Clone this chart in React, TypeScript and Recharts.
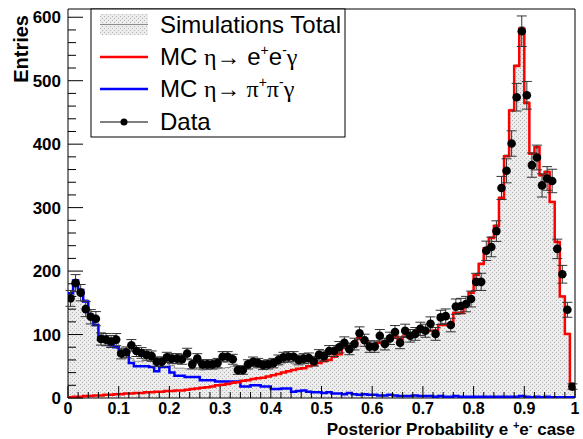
import React from "react";
import { ComposedChart, Area, Line, Scatter, ErrorBar, XAxis, YAxis, ReferenceArea, Label } from "recharts";

// 100 bins of width 0.01 on [0, 1]
const DATA = [
  157, 181, 166, 140, 128, 125, 93, 92, 89, 92,
  70, 72, 83, 74, 71, 68, 66, 57, 57, 64,
  62, 62, 61, 70, 53, 62, 53, 53, 53, 55,
  65, 65, 61, 44, 44, 53, 57, 55, 52, 53,
  55, 60, 64, 65, 65, 60, 62, 63, 58, 68,
  66, 74, 74, 80, 87, 77, 85, 102, 91, 81,
  81, 98, 85, 94, 104, 87, 106, 98, 101, 109,
  106, 117, 101, 127, 129, 115, 144, 145, 148, 156,
  183, 183, 232, 238, 263, 331, 358, 401, 474, 578,
  477, 367, 379, 335, 346, 342, 235, 195, 139, 18,
];

const MC_EE = [
  1, 2, 2, 3, 3, 4, 4, 5, 5, 6,
  6, 7, 7, 8, 8, 9, 9, 10, 10, 11,
  11, 12, 12, 13, 14, 15, 16, 17, 18, 20,
  21, 22, 24, 25, 27, 28, 30, 31, 32, 34,
  36, 38, 40, 42, 44, 46, 47, 50, 52, 55,
  58, 60, 65, 69, 79, 79, 82, 94, 90, 83,
  83, 87, 89, 93, 97, 93, 97, 99, 102, 106,
  106, 106, 106, 115, 115, 115, 134, 134, 149, 166,
  194, 211, 236, 252, 271, 315, 381, 453, 523, 582,
  465, 385, 395, 351, 356, 309, 246, 160, 101, 14,
];

const MC_PIPI = [
  165, 185, 170, 152, 128, 115, 97, 91, 83, 80,
  68, 68, 55, 50, 50, 50, 49, 42, 49, 49,
  40, 35, 35, 33, 33, 33, 28, 28, 28, 26,
  26, 26, 26, 26, 18, 18, 20, 20, 18, 18,
  14, 14, 15, 15, 10, 11, 12, 10, 9, 9,
  8, 9, 7, 7, 6, 8, 6, 5, 6, 5,
  5, 4, 4, 5, 4, 3, 3, 3, 4, 3,
  3, 3, 2, 3, 2, 2, 3, 2, 2, 2,
  2, 2, 2, 2, 2, 2, 2, 2, 2, 3,
  2, 1, 2, 1, 2, 1, 1, 1, 1, 1,
];

const X_TICKS = Array.from({ length: 51 }, (_, i) => i / 50);
const X_LABELS = ["0", "0.1", "0.2", "0.3", "0.4", "0.5", "0.6", "0.7", "0.8", "0.9", "1"];
const Y_TICKS = Array.from({ length: 31 }, (_, i) => i * 20);
const Y_MAX = 613;

const FONT = "'Liberation Sans', Arial, Helvetica, sans-serif";
const GREEK = "'Liberation Serif', 'Times New Roman', serif";

// step outline: one point per low bin edge, plus the closing edge at 1
const edges = MC_EE.map((ee, i) => ({ x: i / 100, ee, pp: MC_PIPI[i], total: ee + MC_PIPI[i] }));
edges.push({ x: 1, ee: MC_EE[99], pp: MC_PIPI[99], total: MC_EE[99] + MC_PIPI[99] });

const points = DATA.map((y, i) => ({ x: (i + 0.5) / 100, y, err: Math.sqrt(y) }));

const XTick = (p: any) => {
  const v = p.payload.value;
  const idx = Math.round(v * 10);
  const major = Math.abs(v * 10 - idx) < 1e-6;
  return (
    <g>
      <line x1={p.x} x2={p.x} y1={p.y} y2={p.y - (major ? 12 : 6)} stroke="#000" strokeWidth={1} />
      {major && (
        <text x={p.x} y={p.y + 16} textAnchor="middle" fontSize={16} fontWeight="bold" fontFamily={FONT} fill="#000">
          {X_LABELS[idx]}
        </text>
      )}
    </g>
  );
};

const YTick = (p: any) => {
  const v = p.payload.value;
  const major = v % 100 === 0;
  return (
    <g>
      <line x1={p.x} x2={p.x + (major ? 15 : 8)} y1={p.y} y2={p.y} stroke="#000" strokeWidth={1} />
      {major && (
        <text x={p.x - 7} y={p.y + 6} textAnchor="end" fontSize={17} fontWeight="bold" fontFamily={FONT} fill="#000">
          {v}
        </text>
      )}
    </g>
  );
};

const DataDot = (p: any) => <circle cx={p.cx} cy={p.cy} r={4.3} fill="#000" />;

function Legend() {
  return (
    <svg width={583} height={439} style={{ position: "absolute", left: 0, top: 0, pointerEvents: "none" }}>
      <defs>
        <pattern id="stipL" width={4} height={4} patternUnits="userSpaceOnUse">
          <rect width={4} height={4} fill="#ececec" />
          <rect x={0} y={0} width={1} height={1} fill="#b4b4b4" />
          <rect x={2} y={2} width={1} height={1} fill="#b4b4b4" />
        </pattern>
      </defs>
      <rect x={91} y={9} width={254} height={128} fill="#fff" stroke="#000" strokeWidth={1} />
      <rect x={100} y={14} width={48} height={21} fill="url(#stipL)" />
      <line x1={100} x2={148} y1={24.5} y2={24.5} stroke="#8c8c8c" strokeWidth={1} />
      <text x={160} y={33} fontSize={24} fontFamily={FONT} fill="#000">Simulations Total</text>

      <line x1={100} x2={148} y1={57} y2={57} stroke="#ff0000" strokeWidth={2.5} />
      <text x={160} y={65} fontSize={24} fontFamily={FONT} fill="#000">
        MC <tspan fontFamily={GREEK}>η→</tspan> e<tspan fontSize={14} dy={-10}>+</tspan>
        <tspan dy={10}>e</tspan><tspan fontSize={14} dy={-10}>-</tspan>
        <tspan dy={10} fontFamily={GREEK}>γ</tspan>
      </text>

      <line x1={100} x2={148} y1={89} y2={89} stroke="#0000ff" strokeWidth={2.5} />
      <text x={160} y={97} fontSize={24} fontFamily={FONT} fill="#000">
        MC <tspan fontFamily={GREEK}>η→ π</tspan><tspan fontSize={14} dy={-10}>+</tspan>
        <tspan dy={10} fontFamily={GREEK}>π</tspan><tspan fontSize={14} dy={-10}>-</tspan>
        <tspan dy={10} fontFamily={GREEK}>γ</tspan>
      </text>

      <line x1={100} x2={148} y1={122} y2={122} stroke="#000" strokeWidth={1} />
      <circle cx={124} cy={122} r={3.5} fill="#000" />
      <text x={160} y={130} fontSize={24} fontFamily={FONT} fill="#000">Data</text>
    </svg>
  );
}

export default function App() {
  return (
    <div style={{ position: "absolute", left: 0, top: 0, width: 583, height: 439, background: "#fff", fontFamily: FONT }}>
      <ComposedChart width={583} height={439} margin={{ top: 9, right: 8, left: 8, bottom: 0 }}>
        <defs>
          <pattern id="stip" width={4} height={4} patternUnits="userSpaceOnUse">
            <rect width={4} height={4} fill="#ececec" />
            <rect x={0} y={0} width={1} height={1} fill="#b4b4b4" />
            <rect x={2} y={2} width={1} height={1} fill="#b4b4b4" />
          </pattern>
        </defs>
        <Area data={edges} dataKey="total" type="stepAfter" stroke="#8c8c8c" strokeWidth={1}
          fill="url(#stip)" fillOpacity={1} dot={false} activeDot={false} isAnimationActive={false} />
        <Line data={edges} dataKey="pp" type="stepAfter" stroke="#0000ff" strokeWidth={2.5}
          dot={false} activeDot={false} isAnimationActive={false} />
        <Line data={edges} dataKey="ee" type="stepAfter" stroke="#ff0000" strokeWidth={2.5}
          dot={false} activeDot={false} isAnimationActive={false} />
        <Scatter data={points} dataKey="y" shape={DataDot} isAnimationActive={false}>
          <ErrorBar dataKey="err" direction="y" width={5} stroke="#333" strokeWidth={1} />
        </Scatter>
        <XAxis type="number" dataKey="x" domain={[0, 1]} ticks={X_TICKS} interval={0} tick={XTick}
          tickLine={false} axisLine={false} tickSize={0} tickMargin={0} height={41} allowDataOverflow>
          <Label content={(p: any) => {
            const vb = p.viewBox;
            return (
              <text x={vb.x + vb.width} y={vb.y + 37} textAnchor="end" fontSize={17} fontWeight="bold" fontFamily={FONT} fill="#000">
                Posterior Probability e <tspan fontSize={11} dy={-6}>+</tspan><tspan dy={6}>e</tspan>
                <tspan fontSize={11} dy={-6}>-</tspan><tspan dy={6}> case</tspan>
              </text>
            );
          }} />
        </XAxis>
        <YAxis type="number" dataKey="y" domain={[0, Y_MAX]} ticks={Y_TICKS} interval={0} tick={YTick}
          tickLine={false} axisLine={false} tickSize={0} tickMargin={0} width={60} allowDataOverflow>
          <Label content={(p: any) => {
            const vb = p.viewBox;
            return (
              <text transform={`translate(${vb.x + 20},${vb.y + 6}) rotate(-90)`} textAnchor="end"
                fontSize={20} fontWeight="bold" fontFamily={FONT} fill="#000">
                Entries
              </text>
            );
          }} />
        </YAxis>
        <ReferenceArea x1={0} x2={1} y1={0} y2={Y_MAX} fill="none" stroke="#000" strokeWidth={1} ifOverflow="visible" />
      </ComposedChart>
      <Legend />
    </div>
  );
}
